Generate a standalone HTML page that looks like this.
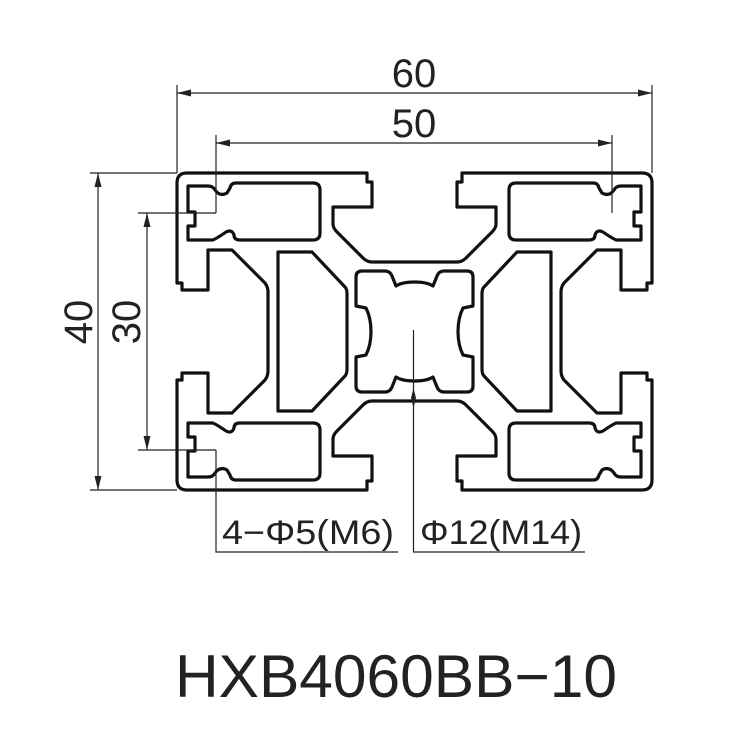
<!DOCTYPE html>
<html><head><meta charset="utf-8"><style>
html,body{margin:0;padding:0;background:#fff;}
svg{display:block}
text{font-family:"Liberation Sans",sans-serif;fill:#222}
</style></head><body>
<svg width="750" height="750" viewBox="0 0 750 750" xmlns="http://www.w3.org/2000/svg">
<defs>
<g id="q" fill="none" stroke="#111" stroke-width="3.2" stroke-linejoin="round">
  <path d="M414.5,262 L372,262 Q367,262 363,258 L337,232 Q333,228 333,224 L333,207 L372,207 L372,182 L367,182 L367,173 L187,173 Q177,173 177,183 L177,283 L182,283 L182,290 L208,290 L208,250 L232,250 L265,283 Q268,287 268,292 L268,331.5"/>
  <path d="M278,331.5 L278,252 L312,252 L345,287 Q347,289 347,294 L347,331.5"/>
  <path d="M188,186 L208,186 Q213,186 215,190 Q220,197 227,193 L230,188 Q231,183 236,183 L313,183 Q320,183 320,190 L320,233 Q320,240 313,240 L240,240 Q234,240 234,235 Q232,229 226,232 Q219,237 213,240 L188,240 L188,226 L195,226 L195,212 L188,212 Z"/>
  <path d="M414.5,282 Q402,282 396,286 L392,276 Q390,271 385,271 L362,271 Q356,271 356,277 L356,306 L366,308 Q371,318 371,331.5"/>
</g>
</defs>
<use href="#q"/>
<use href="#q" transform="translate(829,0) scale(-1,1)"/>
<use href="#q" transform="translate(0,663) scale(1,-1)"/>
<use href="#q" transform="translate(829,663) scale(-1,-1)"/>

<g stroke="#222" stroke-width="1.2" fill="none">
  <line x1="177" y1="85" x2="177" y2="173"/>
  <line x1="652" y1="85" x2="652" y2="173"/>
  <line x1="177" y1="93" x2="652" y2="93"/>
  <line x1="216" y1="135" x2="216" y2="213"/>
  <line x1="612" y1="135" x2="612" y2="213"/>
  <line x1="216" y1="143" x2="612" y2="143"/>
  <line x1="90" y1="173" x2="177" y2="173"/>
  <line x1="90" y1="490" x2="177" y2="490"/>
  <line x1="98" y1="173" x2="98" y2="490"/>
  <line x1="138" y1="213" x2="216" y2="213"/>
  <line x1="138" y1="450" x2="216" y2="450"/>
  <line x1="147" y1="213" x2="147" y2="450"/>
  <polyline points="216,450 216,552 398,552"/>
  <polyline points="413.5,330 413.5,552 585,552"/>
</g>
<g fill="#222">
  <polygon points="177,93 191,89.5 191,96.5"/>
  <polygon points="652,93 638,89.5 638,96.5"/>
  <polygon points="216,143 230,139.5 230,146.5"/>
  <polygon points="612,143 598,139.5 598,146.5"/>
  <polygon points="98,173 94.5,187 101.5,187"/>
  <polygon points="98,490 94.5,476 101.5,476"/>
  <polygon points="147,213 143.5,227 150.5,227"/>
  <polygon points="147,450 143.5,436 150.5,436"/>
  <polygon points="413.5,388 411,398 413.5,408 416,398"/>
</g>
<text x="414" y="87" font-size="40" text-anchor="middle">60</text>
<text x="414" y="137" font-size="40" text-anchor="middle">50</text>
<text transform="translate(92,322) rotate(-90)" font-size="40" text-anchor="middle">40</text>
<text transform="translate(140,322) rotate(-90)" font-size="40" text-anchor="middle">30</text>
<text x="222" y="544" font-size="34" textLength="172" lengthAdjust="spacingAndGlyphs">4−Φ5(M6)</text>
<text x="420" y="544" font-size="34" textLength="162" lengthAdjust="spacingAndGlyphs">Φ12(M14)</text>
<text x="175" y="697" font-size="60" textLength="442" lengthAdjust="spacingAndGlyphs">HXB4060BB−10</text>
</svg>
</body></html>
